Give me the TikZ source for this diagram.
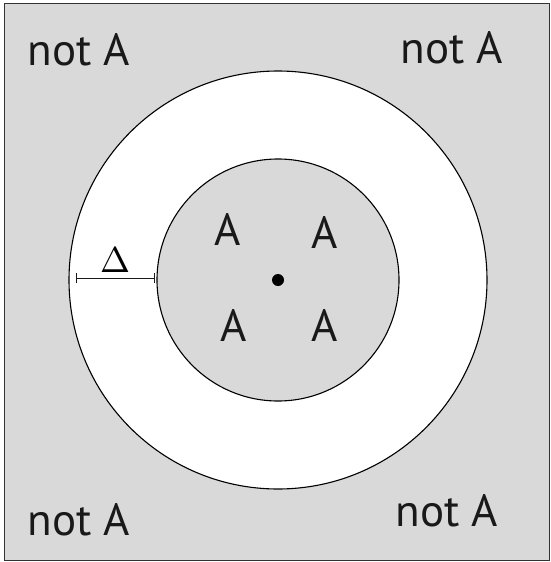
\documentclass[tikz,border=0pt]{standalone}
\usepackage{fontspec}
\setmainfont{PT Sans}
\usetikzlibrary{arrows.meta}
\definecolor{regiongray}{HTML}{D9D9D9}
\definecolor{frameink}{HTML}{333333}

\begin{document}
\begin{tikzpicture}[
  x=1pt, y=-1pt,
  frame/.style={draw=frameink, line width=1pt, fill=regiongray},
  ring/.style={draw=black, line width=1.1pt},
  word/.style={font=\fontsize{45}{52}\selectfont, text=black!90, inner sep=0pt},
  gap/.style={{Bar[width=10pt]}-{Bar[width=10pt]}, line width=1pt, draw=black!90}
]
  \useasboundingbox (0,0) rectangle (551,562);
  \draw[frame] (4,3) rectangle (549,560);
  \coordinate (centre) at (278,280);
  \draw[ring, fill=white] (centre) circle[radius=209];
  \draw[ring, fill=regiongray] (centre) circle[radius=121];
  \fill[black] (centre) circle[radius=6];

  \node[word] (out1) at (79,50) {not A};
  \node[word] (out2) at (452,48) {not A};
  \node[word] (out3) at (79,520) {not A};
  \node[word] (out4) at (447,511) {not A};

  \node[word] (in1) at (228,229) {A};
  \node[word] (in2) at (325,232) {A};
  \node[word] (in3) at (234,325) {A};
  \node[word] (in4) at (325,325) {A};

  \coordinate (outeredge) at (76,278);
  \coordinate (inneredge) at (155,278);
  \draw[gap] (outeredge) -- (inneredge);
  \node[inner sep=0pt] (delta) at (115,260) {\scalebox{3.6}{$\Delta$}};
\end{tikzpicture}
\end{document}
